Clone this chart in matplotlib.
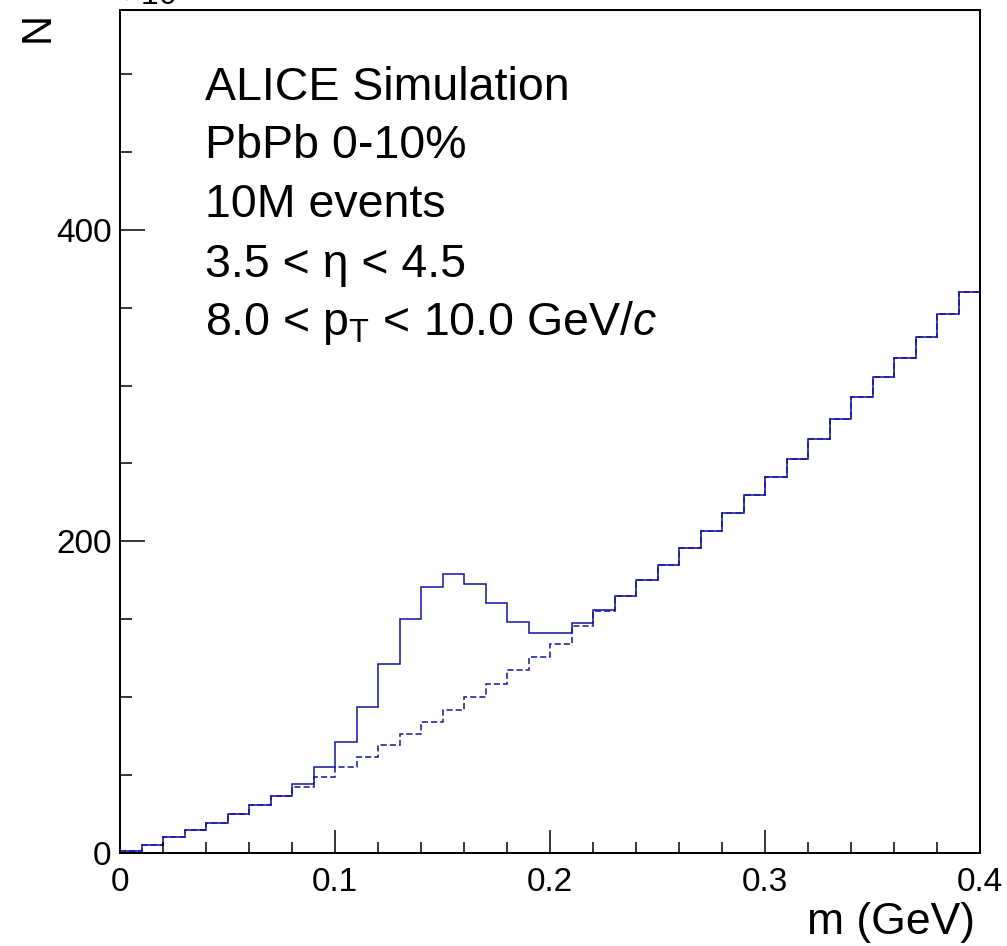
import numpy as np
import matplotlib
matplotlib.use('Agg')
import matplotlib.pyplot as plt
from matplotlib.ticker import MultipleLocator, FuncFormatter

plt.rcParams['font.family'] = ['Liberation Sans', 'DejaVu Sans']
plt.rcParams['mathtext.fontset'] = 'custom'
plt.rcParams['mathtext.rm'] = 'Liberation Sans'
plt.rcParams['mathtext.it'] = 'Liberation Sans:italic'

# 히스토그램 데이터 (단위: x10^3)
m_min, m_max, n_bins = 0.0, 0.4, 40
total = [1.0, 5.1, 10.0, 14.7, 19.4, 25.0, 30.8, 36.8, 44.4, 55.0,
         71.0, 93.4, 121.0, 150.0, 170.7, 178.8, 172.9, 160.7, 148.5, 141.5,
         141.2, 147.6, 156.2, 165.2, 175.4, 185.0, 196.0, 206.8, 218.4, 229.7,
         241.2, 253.0, 266.0, 278.4, 292.5, 305.3, 317.5, 331.4, 346.2, 359.8]
background = [1.0, 5.1, 10.0, 14.7, 19.4, 25.0, 30.8, 36.5, 42.1, 48.5,
              55.3, 61.7, 69.2, 76.5, 83.8, 91.7, 100.0, 108.5, 117.5, 125.8,
              134.4, 145.5, 155.5, 165.2, 175.4, 185.0, 196.0, 206.8, 218.4, 229.7,
              241.2, 253.0, 266.0, 278.4, 292.5, 305.3, 317.5, 331.4, 346.2, 359.8]

labels = ['ALICE Simulation', 'PbPb 0-10%', '10M events',
          '3.5 < η < 4.5', r'8.0 < p$_{\mathrm{T}}$ < 10.0 GeV/$\mathit{c}$']

W, H = 1007, 946
fig = plt.figure(figsize=(W / 100, H / 100), dpi=100)
ax = fig.add_axes([120 / W, 1 - 853 / H, 860 / W, 843 / H])

edges = np.linspace(m_min, m_max, n_bins + 1)
col = '#1414a0'
ax.stairs(background, edges, baseline=None, color=col, lw=1.1,
          linestyle=(0, (4, 2)))
ax.stairs(total, edges, baseline=None, color=col, lw=1.1)

ax.set_xlim(0, 0.4)
ax.set_ylim(0, 541)

# ROOT 스타일 눈금
ax.xaxis.set_major_locator(MultipleLocator(0.1))
ax.xaxis.set_minor_locator(MultipleLocator(0.02))
ax.yaxis.set_major_locator(MultipleLocator(200))
ax.yaxis.set_minor_locator(MultipleLocator(50))
ax.xaxis.set_major_formatter(FuncFormatter(lambda v, p: '%g' % round(v, 3)))
ax.yaxis.set_major_formatter(FuncFormatter(lambda v, p: '%g' % v))
ax.tick_params(which='both', direction='in', top=False, right=False, width=1.1)
ax.tick_params(axis='x', which='major', length=16.5, labelsize=24, pad=10)
ax.tick_params(axis='x', which='minor', length=8)
ax.tick_params(axis='y', which='major', length=18, labelsize=24, pad=6)
ax.tick_params(axis='y', which='minor', length=8.6)
for s in ax.spines.values():
    s.set_linewidth(1.45)

# 축 제목
fig.text(975 / W, 1 - 934 / H, 'm (GeV)', ha='right', va='baseline', fontsize=32)
fig.text(38 / W, 1 - 12 / H, 'N', rotation=90, ha='center', va='top', fontsize=30)
fig.text(122 / W, 1 - 5 / H, r'$\times$10$^{3}$', ha='left', va='baseline', fontsize=23)

# 텍스트 블록
baselines = [100, 158, 217, 277, 335]
for txt, yb in zip(labels, baselines):
    fig.text(205 / W, 1 - yb / H, txt, ha='left', va='baseline', fontsize=33.5)

plt.savefig('out.png', dpi=100)
